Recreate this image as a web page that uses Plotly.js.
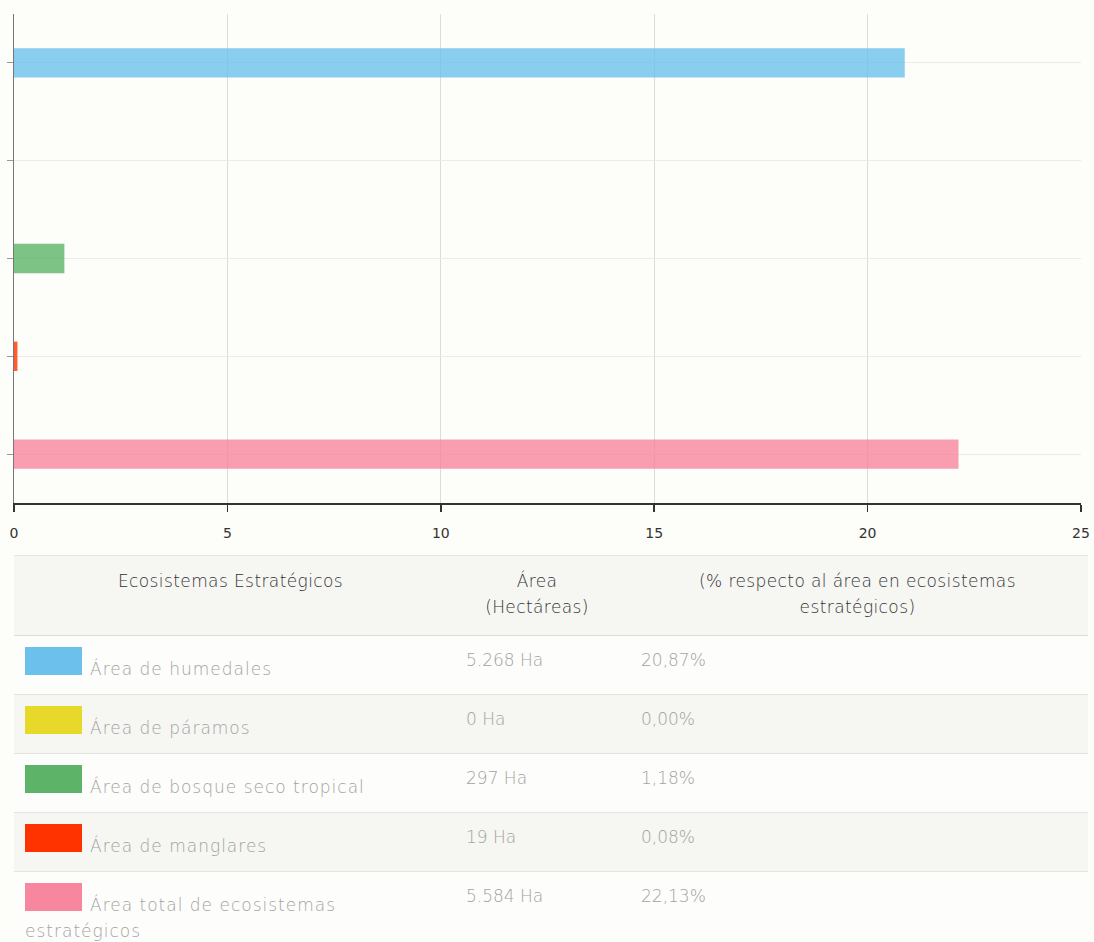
<!DOCTYPE html>
<html>
<head>
<meta charset="utf-8">
<script src="https://cdn.plot.ly/plotly-3.0.1.min.js"></script>
<style>
  html, body { margin:0; padding:0; background:#fdfdf9; width:1094px; height:942px; overflow:hidden; }
  #chart { position:absolute; left:0; top:0; width:1094px; height:550px; }
  #tbl { position:absolute; left:14px; top:555px; width:1074px; border-collapse:collapse; table-layout:fixed;
         font-family:"DejaVu Sans", sans-serif; font-weight:200; font-size:17px; }
  #tbl th { font-weight:200; color:#333; background:#f6f6f3; height:67px; vertical-align:top;
            padding:12px 4px 0 4px; line-height:26px; border-top:1px solid #e4e4e0; border-bottom:1px solid #dcdcd8; text-align:center; letter-spacing:0.4px; }
  #tbl td { color:#a2a2a2; vertical-align:top; padding:13px 0 0 0; height:45px; border-bottom:1px solid #e4e4e0; line-height:22px; }
  #tbl tr.odd td { background:#fdfdfb; }
  #tbl tr.even td { background:#f6f6f3; }
  .box { display:inline-block; width:57px; height:28px; vertical-align:baseline; margin-right:8px; }
  #tbl td.c1 { padding:11px 0 0 11px; line-height:26px; letter-spacing:1px; height:47px; }
</style>
</head>
<body>
<div id="chart"></div>
<table id="tbl">
  <colgroup><col style="width:433px"><col style="width:180px"><col style="width:461px"></colgroup>
  <thead><tr id="hdr"></tr></thead>
  <tbody id="body"></tbody>
</table>
<script>
const categories = ["Área de humedales", "Área de páramos", "Área de bosque seco tropical", "Área de manglares", "Área total de ecosistemas estratégicos"];
const areaHa = [5268, 0, 297, 19, 5584];
const percentValues = [20.87, 0.00, 1.18, 0.08, 22.13];
const colors = ["#6cc0ec", "#e8d82a", "#5db468", "#ff3300", "#f7869f"];
const headers = ["Ecosistemas Estratégicos", "Área<br>(Hectáreas)", "(% respecto al área en ecosistemas<br>estratégicos)"];
const xTicks = [0, 5, 10, 15, 20, 25];

Plotly.newPlot("chart", [{
  type: "bar",
  orientation: "h",
  y: categories,
  x: percentValues,
  width: 0.3,
  marker: { color: colors, opacity: 0.8 },
  hoverinfo: "x+y"
}], {
  width: 1094, height: 550,
  margin: { l: 14, r: 13, t: 14, b: 47 },
  paper_bgcolor: "#fdfdf9",
  plot_bgcolor: "#fdfdf9",
  showlegend: false,
  font: { family: "DejaVu Sans, sans-serif", size: 14, color: "#333" },
  xaxis: {
    range: [0, 25], tickvals: xTicks, ticktext: xTicks.map(String),
    showgrid: true, gridcolor: "#dcdcdc", gridwidth: 1,
    zeroline: false, showline: true, linecolor: "#333", linewidth: 1.5,
    ticks: "outside", ticklen: 7, tickcolor: "#333", tickwidth: 1.5,
    ticklabelstandoff: 10,
    fixedrange: true
  },
  yaxis: {
    autorange: "reversed", showticklabels: false,
    showgrid: true, gridcolor: "#ebebe8", gridwidth: 1,
    showline: true, linecolor: "#777", linewidth: 1.5,
    ticks: "outside", ticklen: 6, tickcolor: "#999",
    fixedrange: true
  }
}, { displayModeBar: false, staticPlot: true });

const hdr = document.getElementById("hdr");
headers.forEach((h) => {
  const th = document.createElement("th");
  th.innerHTML = h;
  hdr.appendChild(th);
});
const body = document.getElementById("body");
function fmtHa(v) { return v.toString().replace(/\B(?=(\d{3})+(?!\d))/g, ".") + " Ha"; }
categories.forEach((c, i) => {
  const tr = document.createElement("tr");
  tr.className = (i % 2 === 0) ? "odd" : "even";
  const td1 = document.createElement("td");
  td1.className = "c1";
  td1.innerHTML = '<span class="box" style="background:' + colors[i] + '"></span>' + c;
  const td2 = document.createElement("td");
  td2.textContent = fmtHa(areaHa[i]);
  td2.style.paddingLeft = "19px";
  const td3 = document.createElement("td");
  td3.textContent = percentValues[i].toFixed(2).replace(".", ",") + "%";
  td3.style.paddingLeft = "14px";
  tr.appendChild(td1); tr.appendChild(td2); tr.appendChild(td3);
  body.appendChild(tr);
});
</script>
</body>
</html>
